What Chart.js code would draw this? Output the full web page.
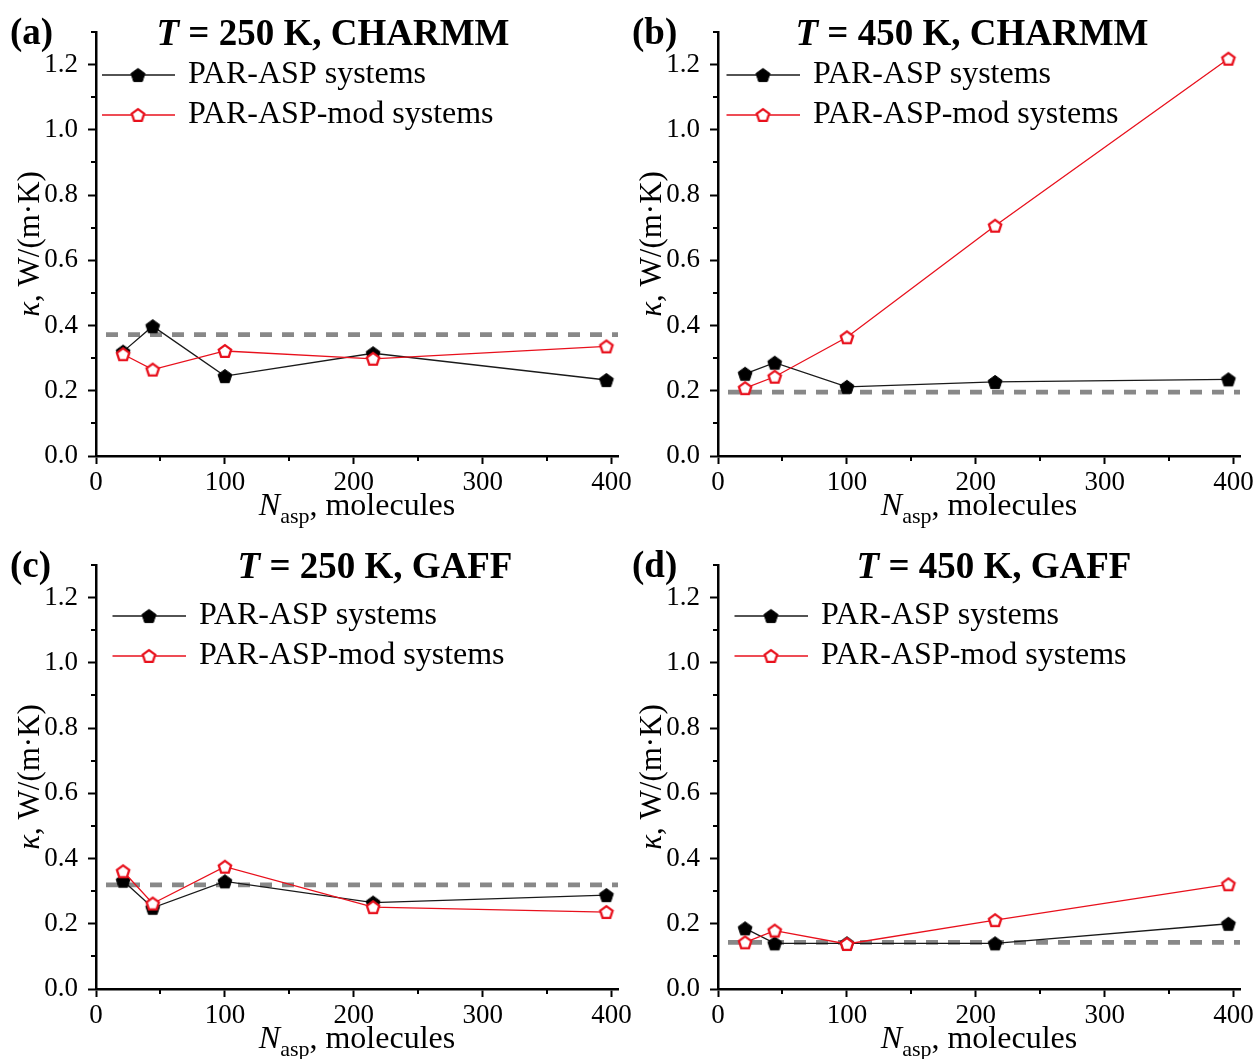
<!DOCTYPE html>
<html>
<head>
<meta charset="utf-8">
<title>Thermal conductivity vs. number of aspirin molecules</title>
<script src="https://cdn.jsdelivr.net/npm/chart.js@4.4.0/dist/chart.umd.min.js"></script>
<style>
  html, body { margin: 0; padding: 0; background: #fff; overflow: hidden; }
  #fig { position: relative; width: 1257px; height: 1059px; }
  #fig canvas { position: absolute; }
</style>
</head>
<body>
<div id="fig">
  <canvas id="panelA"></canvas>
  <canvas id="panelB"></canvas>
  <canvas id="panelC"></canvas>
  <canvas id="panelD"></canvas>
</div>
<script>
// ---- data -------------------------------------------------------------
// Number of aspirin molecules in each simulated system
const nAsp = [21, 44, 100, 215, 396];

// Thermal conductivity kappa, W/(m·K)
const parAsp250Charmm    = [0.320, 0.398, 0.245, 0.315, 0.233];
const parAspMod250Charmm = [0.312, 0.265, 0.322, 0.298, 0.336];
const ref250Charmm = 0.372;

const parAsp450Charmm    = [0.252, 0.286, 0.212, 0.227, 0.235];
const parAspMod450Charmm = [0.208, 0.243, 0.364, 0.706, 1.218];
const ref450Charmm = 0.196;

const parAsp250Gaff    = [0.332, 0.249, 0.330, 0.265, 0.288];
const parAspMod250Gaff = [0.361, 0.262, 0.375, 0.251, 0.236];
const ref250Gaff = 0.319;

const parAsp450Gaff    = [0.186, 0.140, 0.140, 0.140, 0.200];
const parAspMod450Gaff = [0.143, 0.179, 0.138, 0.211, 0.321];
const ref450Gaff = 0.143;

// Axis ticks (blank label = minor tick)
const xTickValues = [0, 50, 100, 150, 200, 250, 300, 350, 400];
const xTickLabels = ['0', '', '100', '', '200', '', '300', '', '400'];
const yTickValues = [0, 0.1, 0.2, 0.3, 0.4, 0.5, 0.6, 0.7, 0.8, 0.9, 1.0, 1.1, 1.2, 1.3];
const yTickLabels = ['0.0', '', '0.2', '', '0.4', '', '0.6', '', '0.8', '', '1.0', '', '1.2', ''];
const xRange = [0, 405];
const yRange = [0, 1.3];

// Panel text
const panelLetters = ['(a)', '(b)', '(c)', '(d)'];
const panelTemps   = ['250 K', '450 K', '250 K', '450 K'];
const panelFields  = ['CHARMM', 'CHARMM', 'GAFF', 'GAFF'];
const seriesNames  = ['PAR-ASP systems', 'PAR-ASP-mod systems'];

// ---- styling ----------------------------------------------------------
const SERIF = '"Liberation Serif", "Times New Roman", Times, serif';
const BLACK_LINE = '#1a1a1a';
const RED = '#e8101c';
const REF_GREY = '#888888';
const LEGEND_FONT = 32;
const LEGEND_PAD = 8;
const LEGEND_BOX = 68;
const LEGEND_SAMPLE = 73;

// Plot-area geometry inside each canvas
const AREA = { left: 96, right: 618, top: 32, bottom: 456 };

// titleCx: heading centre from plot left; legendDx / legendTop: legend placement
const panels = [
  { id: 'panelA', left: 0,   top: 0,   width: 640, height: 533, black: parAsp250Charmm, red: parAspMod250Charmm, ref: ref250Charmm, titleCx: 237, legendDx: 0,  legendTop: 51 },
  { id: 'panelB', left: 622, top: 0,   width: 640, height: 533, black: parAsp450Charmm, red: parAspMod450Charmm, ref: ref450Charmm, titleCx: 254, legendDx: 3,  legendTop: 51 },
  { id: 'panelC', left: 0,   top: 533, width: 640, height: 526, black: parAsp250Gaff,   red: parAspMod250Gaff,   ref: ref250Gaff,   titleCx: 279, legendDx: 11, legendTop: 59 },
  { id: 'panelD', left: 622, top: 533, width: 640, height: 526, black: parAsp450Gaff,   red: parAspMod450Gaff,   ref: ref450Gaff,   titleCx: 276, legendDx: 11, legendTop: 59 }
];

// ---- marker images ----------------------------------------------------
function pentagonPath(g, cx, cy, r) {
  g.beginPath();
  for (let k = 0; k < 5; k++) {
    const a = -Math.PI / 2 + k * 2 * Math.PI / 5;
    const px = cx + r * Math.cos(a), py = cy + r * Math.sin(a);
    if (k === 0) g.moveTo(px, py); else g.lineTo(px, py);
  }
  g.closePath();
}

// filled=true: solid black pentagon; filled=false: open red pentagon.
// lineLen > 0 adds a line through the marker (legend sample); lead adds
// blank space on the left of the sample.
function markerImage(filled, lineLen, lead) {
  const r = filled ? 7.3 : 6.5;
  const size = 20;
  const m = lead || 0;
  const w = (lineLen || size) + m;
  const c = document.createElement('canvas');
  c.width = w; c.height = size;
  const g = c.getContext('2d');
  const cx = m + (lineLen || size) / 2;
  const cy = size / 2 + r * (1 - Math.cos(Math.PI / 5)) / 2;
  if (lineLen) {
    g.strokeStyle = filled ? BLACK_LINE : RED;
    g.lineWidth = 1.3;
    g.beginPath(); g.moveTo(m, size / 2); g.lineTo(w, size / 2); g.stroke();
  }
  pentagonPath(g, cx, cy, r);
  g.lineJoin = 'miter';
  if (filled) {
    g.fillStyle = '#000'; g.fill();
    g.strokeStyle = '#000'; g.lineWidth = 1; g.stroke();
  } else {
    g.fillStyle = '#fff'; g.fill();
    g.strokeStyle = RED; g.lineWidth = 2.3; g.stroke();
  }
  return c;
}

const blackMarker = markerImage(true, 0, 0);
const redMarker = markerImage(false, 0, 0);

// ---- text helpers -----------------------------------------------------
function runsWidth(ctx, runs) {
  let w = 0;
  runs.forEach(r => { ctx.font = r.font; w += ctx.measureText(r.text).width; });
  return w;
}
function drawRuns(ctx, runs, x, y) {
  let cx = x;
  runs.forEach(r => {
    ctx.font = r.font;
    ctx.fillText(r.text, cx, y + (r.dy || 0));
    cx += ctx.measureText(r.text).width;
  });
}

// Panel heading, panel letter, axis titles and minor tick marks
const panelDecor = {
  id: 'panelDecor',
  afterDraw(chart, args, opts) {
    const ctx = chart.ctx;
    const area = chart.chartArea;
    const xs = chart.scales.x, ys = chart.scales.y;
    ctx.save();
    ctx.fillStyle = '#000';
    ctx.textBaseline = 'alphabetic';
    ctx.textAlign = 'left';

    // minor ticks
    ctx.strokeStyle = '#000';
    ctx.lineWidth = 2;
    ctx.beginPath();
    xTickValues.forEach((v, i) => {
      if (xTickLabels[i] !== '') return;
      const px = Math.round(xs.getPixelForValue(v));
      ctx.moveTo(px, area.bottom); ctx.lineTo(px, area.bottom + 5);
    });
    yTickValues.forEach((v, i) => {
      if (yTickLabels[i] !== '') return;
      const py = Math.round(ys.getPixelForValue(v));
      ctx.moveTo(area.left - 5, py); ctx.lineTo(area.left, py);
    });
    ctx.stroke();

    // panel letter
    ctx.font = 'bold 37px ' + SERIF;
    ctx.fillText(opts.letter, 10, 44);

    // heading: italic T, bold rest
    const head = [
      { text: 'T', font: 'bold italic 37px ' + SERIF },
      { text: ' = ' + opts.temp + ', ' + opts.field, font: 'bold 37px ' + SERIF }
    ];
    const hw = runsWidth(ctx, head);
    drawRuns(ctx, head, area.left + opts.titleCx - hw / 2, 45);

    // x-axis title
    const xt = [
      { text: 'N', font: 'italic 32px ' + SERIF },
      { text: 'asp', font: '22px ' + SERIF, dy: 8 },
      { text: ', molecules', font: '32px ' + SERIF }
    ];
    const xw = runsWidth(ctx, xt);
    drawRuns(ctx, xt, (area.left + area.right) / 2 - xw / 2, 515);

    // y-axis title (rotated)
    const yt = [
      { text: '\u03BA', font: 'italic 31px ' + SERIF },
      { text: ', W/(m\u00B7K)', font: '31px ' + SERIF }
    ];
    const yw = runsWidth(ctx, yt);
    ctx.translate(39, (area.top + area.bottom) / 2);
    ctx.rotate(-Math.PI / 2);
    drawRuns(ctx, yt, -yw / 2, 0);
    ctx.restore();
  }
};

function toPoints(values) {
  return nAsp.map((n, i) => ({ x: n, y: values[i] }));
}

function axisBase(tickValues, tickLabels) {
  return {
    type: 'linear',
    afterBuildTicks(scale) { scale.ticks = tickValues.map(v => ({ value: v })); },
    border: { display: true, color: '#000', width: 2.5 },
    grid: {
      display: true,
      drawOnChartArea: false,
      drawTicks: true,
      tickLength: 8,
      tickWidth: 2,
      tickColor: (c) => {
        const i = tickValues.indexOf(c.tick ? c.tick.value : NaN);
        return (i >= 0 && tickLabels[i] !== '') ? '#000' : 'rgba(0,0,0,0)';
      }
    },
    ticks: {
      autoSkip: false,
      maxRotation: 0,
      minRotation: 0,
      color: '#000',
      font: { family: SERIF, size: 27 },
      callback: (value, index) => tickLabels[index]
    }
  };
}

panels.forEach((p, k) => {
  const canvas = document.getElementById(p.id);
  canvas.width = p.width; canvas.height = p.height;
  canvas.style.left = p.left + 'px';
  canvas.style.top = p.top + 'px';

  const blackLegend = markerImage(true, LEGEND_SAMPLE, p.legendDx);
  const redLegend = markerImage(false, LEGEND_SAMPLE, p.legendDx);

  const xAxis = axisBase(xTickValues, xTickLabels);
  xAxis.min = xRange[0]; xAxis.max = xRange[1];
  xAxis.position = 'bottom';
  xAxis.ticks.padding = 3;
  xAxis.afterFit = (s) => { s.height = p.height - AREA.bottom; s.paddingLeft = 0; s.paddingRight = 0; };

  const yAxis = axisBase(yTickValues, yTickLabels);
  yAxis.min = yRange[0]; yAxis.max = yRange[1];
  yAxis.position = 'left';
  yAxis.ticks.padding = 10;
  yAxis.afterFit = (s) => { s.width = AREA.left; s.paddingTop = 0; s.paddingBottom = 0; };

  new Chart(canvas, {
    type: 'line',
    data: {
      datasets: [
        {
          label: seriesNames[1],
          data: toPoints(p.red),
          borderColor: RED,
          borderWidth: 1.3,
          pointStyle: redMarker,
          pointRadius: 7,
          tension: 0,
          order: 0
        },
        {
          label: seriesNames[0],
          data: toPoints(p.black),
          borderColor: BLACK_LINE,
          borderWidth: 1.3,
          pointStyle: blackMarker,
          pointRadius: 7,
          tension: 0,
          order: 1
        },
        {
          label: 'reference',
          data: [{ x: xRange[0], y: p.ref }, { x: xRange[1], y: p.ref }],
          borderColor: REF_GREY,
          borderWidth: 4.7,
          borderDash: [12, 10],
          borderDashOffset: 12,
          pointRadius: 0,
          tension: 0,
          order: 2
        }
      ]
    },
    options: {
      responsive: false,
      animation: false,
      devicePixelRatio: 1,
      events: [],
      layout: { padding: { left: 0, top: AREA.top, right: p.width - AREA.right, bottom: 0 } },
      scales: { x: xAxis, y: yAxis },
      plugins: {
        title: { display: false },
        tooltip: { enabled: false },
        legend: {
          display: true,
          position: 'chartArea',
          align: 'start',
          onClick: null,
          // empty legend title used as a spacer above the entries
          title: { display: true, text: '', font: { size: 10, lineHeight: 1 }, padding: { top: p.legendTop - 10, bottom: 0 } },
          labels: {
            usePointStyle: true,
            pointStyleWidth: LEGEND_BOX + p.legendDx,
            padding: LEGEND_PAD,
            color: '#000',
            font: { family: SERIF, size: LEGEND_FONT },
            generateLabels: () => [
              { text: seriesNames[0], pointStyle: blackLegend, fillStyle: '#000', strokeStyle: '#000', lineWidth: 0, hidden: false, datasetIndex: 1, fontColor: '#000' },
              { text: seriesNames[1], pointStyle: redLegend, fillStyle: '#fff', strokeStyle: RED, lineWidth: 0, hidden: false, datasetIndex: 0, fontColor: '#000' }
            ]
          }
        },
        panelDecor: { letter: panelLetters[k], temp: panelTemps[k], field: panelFields[k], titleCx: p.titleCx }
      }
    },
    plugins: [panelDecor]
  });
});
</script>
</body>
</html>
